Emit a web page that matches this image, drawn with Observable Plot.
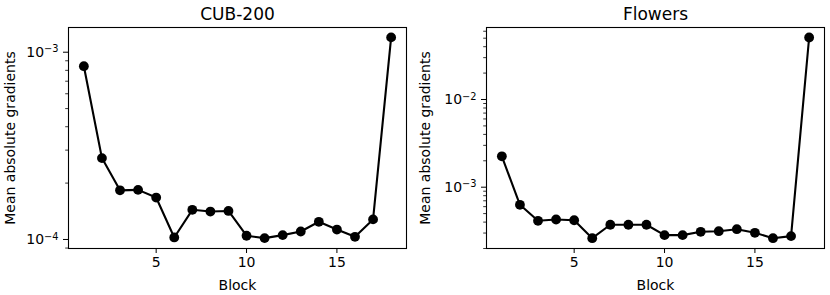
<!DOCTYPE html>
<html>
<head>
<meta charset="utf-8">
<script src="https://cdn.jsdelivr.net/npm/d3@7"></script>
<script src="https://cdn.jsdelivr.net/npm/@observablehq/plot@0.6"></script>
<style>
  html, body { margin: 0; padding: 0; background: white; }
  #wrap { display: flex; width: 830px; height: 295px; }
</style>
</head>
<body>
<div id="wrap"></div>
<script>
const blocks = [1, 2, 3, 4, 5, 6, 7, 8, 9, 10, 11, 12, 13, 14, 15, 16, 17, 18];
const cubValues = [8.42e-4, 2.72e-4, 1.83e-4, 1.84e-4, 1.675e-4, 1.025e-4, 1.44e-4, 1.41e-4, 1.42e-4,
  1.047e-4, 1.017e-4, 1.055e-4, 1.103e-4, 1.243e-4, 1.13e-4, 1.033e-4, 1.28e-4, 1.2e-3];
const flowersValues = [2.25e-3, 6.3e-4, 4.14e-4, 4.28e-4, 4.2e-4, 2.62e-4, 3.73e-4, 3.73e-4, 3.73e-4,
  2.84e-4, 2.84e-4, 3.1e-4, 3.15e-4, 3.32e-4, 3.02e-4, 2.62e-4, 2.77e-4, 5.09e-2];
const titles = ["CUB-200", "Flowers"];
const xLabel = "Block";
const yLabel = "Mean absolute gradients";
const xTicks = [5, 10, 15];
const cubMajor = [1e-4, 1e-3];
const cubMinor = [9e-5, 2e-4, 3e-4, 4e-4, 5e-4, 6e-4, 7e-4, 8e-4, 9e-4];
const flowersMajor = [1e-3, 1e-2];
const flowersMinor = [2e-4, 3e-4, 4e-4, 5e-4, 6e-4, 7e-4, 8e-4, 9e-4,
  2e-3, 3e-3, 4e-3, 5e-3, 6e-3, 7e-3, 8e-3, 9e-3, 2e-2, 3e-2, 4e-2, 5e-2, 6e-2];

function panel({title, values, yDomain, major, minor, marginLeft, marginRight}) {
  const data = blocks.map((b, i) => ({block: b, value: values[i]}));
  const fig = Plot.plot({
    width: 415, height: 295,
    marginLeft, marginRight, marginTop: 27, marginBottom: 47,
    style: {fontFamily: "DejaVu Sans", fontSize: "14px", color: "black", background: "white", overflow: "visible"},
    x: {domain: [0.15, 18.85]},
    y: {type: "log", domain: yDomain},
    marks: [
      Plot.axisX({ticks: xTicks, tickSize: 5, tickPadding: 4, tickFormat: d => String(d), label: null, fontSize: 14, strokeWidth: 1}),
      Plot.axisY({ticks: minor, tickSize: 2.8, tickFormat: () => "", label: null, strokeWidth: 0.8}),
      Plot.axisY({ticks: major, tickSize: 5, tickPadding: 5, tickFormat: d => "10^" + Math.round(Math.log10(d)), label: null, fontSize: 14, strokeWidth: 1}),
      Plot.frame({stroke: "black", strokeWidth: 1.1}),
      Plot.line(data, {x: "block", y: "value", stroke: "black", strokeWidth: 2.1}),
      Plot.dot(data, {x: "block", y: "value", r: 4.9, fill: "black", stroke: "none"}),
      Plot.text([title], {frameAnchor: "top", dy: -8, lineAnchor: "bottom", fontSize: 17, text: d => d, fill: "black"}),
      Plot.text([xLabel], {frameAnchor: "bottom", dy: 41, lineAnchor: "bottom", fontSize: 14, text: d => d, fill: "black"}),
      Plot.text([yLabel], {frameAnchor: "left", dx: -(marginLeft - 10), rotate: -90, textAnchor: "middle", lineAnchor: "middle", fontSize: 14, text: d => d, fill: "black"})
    ]
  });
  // render exponent as superscript
  fig.querySelectorAll('g[aria-label="y-axis tick label"] text').forEach(t => {
    const s = t.textContent;
    if (s.includes("^")) {
      const [base, exp] = s.split("^");
      t.textContent = base;
      const ts = document.createElementNS("http://www.w3.org/2000/svg", "tspan");
      ts.setAttribute("dy", "-4.4");
      ts.setAttribute("font-size", "9.8");
      ts.textContent = exp.replace("-", "\u2212");
      t.appendChild(ts);
    }
  });
  return fig;
}

const wrap = document.getElementById("wrap");
wrap.appendChild(panel({title: titles[0], values: cubValues, yDomain: [8.95e-5, 1.355e-3], major: cubMajor, minor: cubMinor, marginLeft: 68, marginRight: 9}));
wrap.appendChild(panel({title: titles[1], values: flowersValues, yDomain: [2.0e-4, 6.62e-2], major: flowersMajor, minor: flowersMinor, marginLeft: 71, marginRight: 6}));
</script>
</body>
</html>
